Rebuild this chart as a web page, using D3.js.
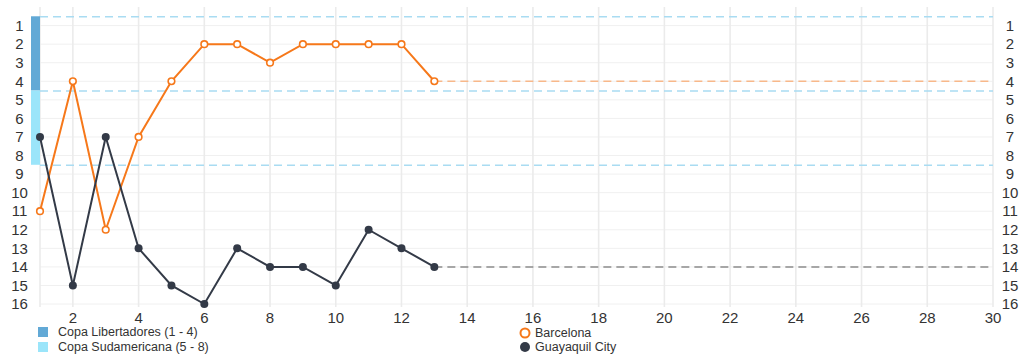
<!DOCTYPE html>
<html>
<head>
<meta charset="utf-8">
<script src="https://cdn.jsdelivr.net/npm/d3@7"></script>
<style>
  html, body { margin: 0; padding: 0; background: #fff; }
  svg { display: block; font-family: "Liberation Sans", Arial, sans-serif; }
</style>
</head>
<body>
<svg id="chart" width="1024" height="357"></svg>
<script>
const rounds = [1,2,3,4,5,6,7,8,9,10,11,12,13];
const barcelona = [11,4,12,7,4,2,2,3,2,2,2,2,4];
const guayaquil = [7,15,7,13,15,16,13,14,14,15,12,13,14];
const totalRounds = 30;
const xTicks = [2,4,6,8,10,12,14,16,18,20,22,24,26,28,30];
const yTicks = [1,2,3,4,5,6,7,8,9,10,11,12,13,14,15,16];
const zones = [
  {name: "Copa Libertadores (1 - 4)", from: 1, to: 4, color: "#62a9d6"},
  {name: "Copa Sudamericana (5 - 8)", from: 5, to: 8, color: "#9be5fa"}
];
const teams = [
  {name: "Barcelona", values: barcelona, color: "#f6781a", dash: "#f8b88a", hollow: true},
  {name: "Guayaquil City", values: guayaquil, color: "#333a47", dash: "#8c8c8c", hollow: false}
];

const svg = d3.select("#chart");
const x = d3.scaleLinear().domain([1, totalRounds]).range([40, 993]);
const y = d3.scaleLinear().domain([0, 16]).range([7, 304]);

// grid
const g = svg.append("g");
g.selectAll(".hg").data(yTicks).join("line")
  .attr("x1", x(1)).attr("x2", x(totalRounds))
  .attr("y1", d => y(d)).attr("y2", d => y(d))
  .attr("stroke", "#f0f0f0").attr("stroke-width", 1);
g.selectAll(".vg").data([1].concat(xTicks)).join("line")
  .attr("x1", d => x(d)).attr("x2", d => x(d))
  .attr("y1", y(0)).attr("y2", y(16) + 3)
  .attr("stroke", "#ebebeb").attr("stroke-width", 1.6);

// zone bands
svg.selectAll(".band").data(zones).join("rect")
  .attr("x", 31).attr("width", 9)
  .attr("y", d => y(d.from - 0.5))
  .attr("height", d => y(d.to + 0.5) - y(d.from - 0.5))
  .attr("fill", d => d.color);

// zone dashed lines
const zoneLines = [zones[0].from - 0.5].concat(zones.map(z => z.to + 0.5));
svg.selectAll(".zl").data(zoneLines).join("line")
  .attr("x1", x(1)).attr("x2", x(totalRounds))
  .attr("y1", d => y(d) + 0.5).attr("y2", d => y(d) + 0.5)
  .attr("stroke", "#a9dcf2").attr("stroke-width", 1.5)
  .attr("stroke-dasharray", "8,5");

// axes labels
const yl = svg.append("g").attr("font-size", 15).attr("fill", "#333").attr("text-anchor", "middle");
yl.selectAll(".l").data(yTicks).join("text")
  .attr("x", 19.5).attr("y", d => y(d)).attr("dy", "0.35em").text(d => d);
const yr = svg.append("g").attr("font-size", 15).attr("fill", "#333").attr("text-anchor", "middle");
yr.selectAll(".r").data(yTicks).join("text")
  .attr("x", 1010).attr("y", d => y(d)).attr("dy", "0.35em").text(d => d);
const xl = svg.append("g").attr("font-size", 15).attr("fill", "#333").attr("text-anchor", "middle");
xl.selectAll(".x").data(xTicks).join("text")
  .attr("x", d => x(d)).attr("y", 318).attr("dy", "0.35em").text(d => d);

// lines
const line = d3.line().x(d => x(d[0])).y(d => y(d[1]));
teams.forEach(t => {
  const pts = rounds.map((r, i) => [r, t.values[i]]);
  const last = pts[pts.length - 1];
  svg.append("path").datum([last, [totalRounds, last[1]]])
    .attr("d", line).attr("fill", "none")
    .attr("stroke", t.dash).attr("stroke-width", 1.5).attr("stroke-dasharray", "8,5");
  svg.append("path").datum(pts)
    .attr("d", line).attr("fill", "none")
    .attr("stroke", t.color).attr("stroke-width", 2);
  svg.append("g").selectAll("circle").data(pts).join("circle")
    .attr("cx", d => x(d[0])).attr("cy", d => y(d[1]))
    .attr("r", t.hollow ? 3.3 : 4)
    .attr("fill", t.hollow ? "#fff" : t.color)
    .attr("stroke", t.color).attr("stroke-width", t.hollow ? 1.6 : 0);
});

// legend zones
const lz = svg.append("g").attr("font-size", 12.5).attr("fill", "#333");
zones.forEach((z, i) => {
  lz.append("rect").attr("x", 38).attr("y", 327 + i * 15).attr("width", 10).attr("height", 10).attr("fill", z.color);
  lz.append("text").attr("x", 58).attr("y", 332 + i * 15).attr("dy", "0.35em").text(z.name);
});
// legend teams
teams.forEach((t, i) => {
  lz.append("circle").attr("cx", 525).attr("cy", 333 + i * 14).attr("r", t.hollow ? 4.5 : 5)
    .attr("fill", t.hollow ? "#fff" : t.color)
    .attr("stroke", t.color).attr("stroke-width", t.hollow ? 2 : 0);
  lz.append("text").attr("x", 535).attr("y", 333 + i * 14).attr("dy", "0.35em").text(t.name);
});
</script>
</body>
</html>
